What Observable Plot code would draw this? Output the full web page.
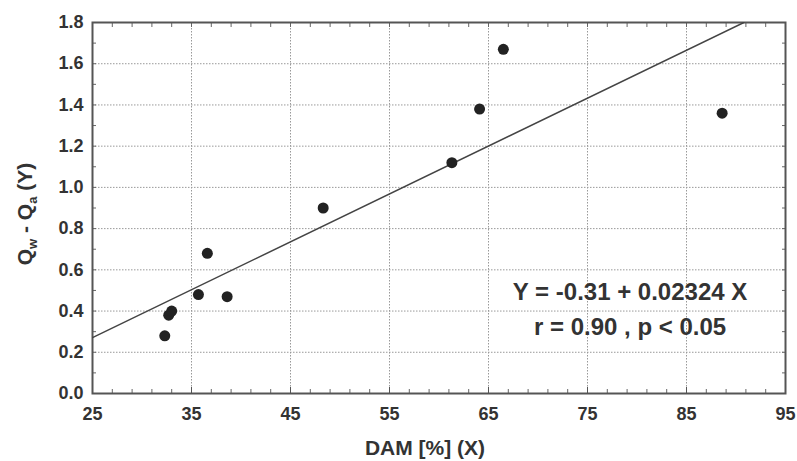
<!DOCTYPE html>
<html>
<head>
<meta charset="utf-8">
<script src="https://cdn.jsdelivr.net/npm/d3@7"></script>
<script src="https://cdn.jsdelivr.net/npm/@observablehq/plot@0.6"></script>
<style>
  html, body { margin: 0; padding: 0; background: #fff; }
  #chart { width: 797px; height: 461px; }
  svg { font-family: "Liberation Sans", Arial, sans-serif; }
</style>
</head>
<body>
<div id="chart"></div>
<script>
const dam = [32.3, 32.7, 33.0, 35.7, 36.6, 38.6, 48.3, 61.3, 64.1, 66.5, 88.6];
const qdiff = [0.28, 0.38, 0.40, 0.48, 0.68, 0.47, 0.90, 1.12, 1.38, 1.67, 1.36];
const xTicks = [25, 35, 45, 55, 65, 75, 85, 95];
const yTicks = [0, 0.2, 0.4, 0.6, 0.8, 1.0, 1.2, 1.4, 1.6, 1.8];
const fitIntercept = -0.31;
const fitSlope = 0.02324;
const eqLines = ["Y = -0.31 + 0.02324 X", "r = 0.90 , p < 0.05"];
const xLabel = "DAM [%] (X)";

const points = dam.map((x, i) => ({x, y: qdiff[i]}));
const xMinor = d3.range(25, 95.001, 2);
const yMinor = d3.range(0, 1.8001, 0.1);
const xEnd = (1.8 - fitIntercept) / fitSlope;
const fitLine = [25, xEnd].map(x => ({x, y: fitIntercept + fitSlope * x}));

const W = 797, H = 461;
const plot = Plot.plot({
  width: W, height: H,
  marginLeft: 92, marginRight: 12, marginTop: 22, marginBottom: 68,
  style: {fontFamily: "'Liberation Sans', Arial, sans-serif", background: "#fff", overflow: "visible"},
  x: {domain: [25, 95], ticks: xTicks, label: null},
  y: {domain: [0, 1.8], ticks: yTicks, label: null},
  marks: [
    Plot.gridX(xTicks, {stroke: "#999", strokeOpacity: 1, strokeDasharray: "1.5,1.5", strokeWidth: 1}),
    Plot.gridY(yTicks, {stroke: "#999", strokeOpacity: 1, strokeDasharray: "1.5,1.5", strokeWidth: 1}),
    // minor inward ticks on all four sides
    Plot.axisX({anchor: "bottom", ticks: xMinor, tickSize: -4, text: null, label: null, stroke: "#666"}),
    Plot.axisX({anchor: "top", ticks: xMinor, tickSize: -4, text: null, label: null, stroke: "#666"}),
    Plot.axisY({anchor: "left", ticks: yMinor, tickSize: -4, text: null, label: null, stroke: "#666"}),
    Plot.axisY({anchor: "right", ticks: yMinor, tickSize: -4, text: null, label: null, stroke: "#666"}),
    // major axes with labels
    Plot.axisX({anchor: "bottom", ticks: xTicks, tickSize: -6, tickPadding: 20, label: null,
      fontSize: 18, fontWeight: "bold", fill: "#333", stroke: "#555"}),
    Plot.axisY({anchor: "left", ticks: yTicks, tickSize: 0, tickPadding: 9, label: null,
      tickFormat: d3.format(".1f"), fontSize: 18, fontWeight: "bold", fill: "#333"}),
    Plot.frame({stroke: "#555", strokeWidth: 2}),
    Plot.line(fitLine, {x: "x", y: "y", stroke: "#444", strokeWidth: 1.5, clip: true}),
    Plot.dot(points, {x: "x", y: "y", r: 5.5, fill: "#222", stroke: "none"}),
    Plot.text(eqLines, {x: 79.3, y: [0.49, 0.32], text: d => d, fontSize: 24, fontWeight: "bold", fill: "#333"})
  ]
});
document.getElementById("chart").appendChild(plot);

const svg = d3.select(plot);
// x axis label
svg.append("text")
  .attr("x", 425).attr("y", 455)
  .attr("text-anchor", "middle")
  .attr("font-size", 21).attr("font-weight", "bold").attr("fill", "#333")
  .text(xLabel);
// y axis label with subscripts
const yl = svg.append("text")
  .attr("transform", "translate(32,214) rotate(-90)")
  .attr("text-anchor", "middle")
  .attr("font-size", 21).attr("font-weight", "bold").attr("fill", "#333");
yl.append("tspan").text("Q");
yl.append("tspan").attr("font-size", 13).attr("dy", 5).text("w");
yl.append("tspan").attr("dy", -5).text(" - Q");
yl.append("tspan").attr("font-size", 13).attr("dy", 5).text("a");
yl.append("tspan").attr("dy", -5).text(" (Y)");
</script>
</body>
</html>
